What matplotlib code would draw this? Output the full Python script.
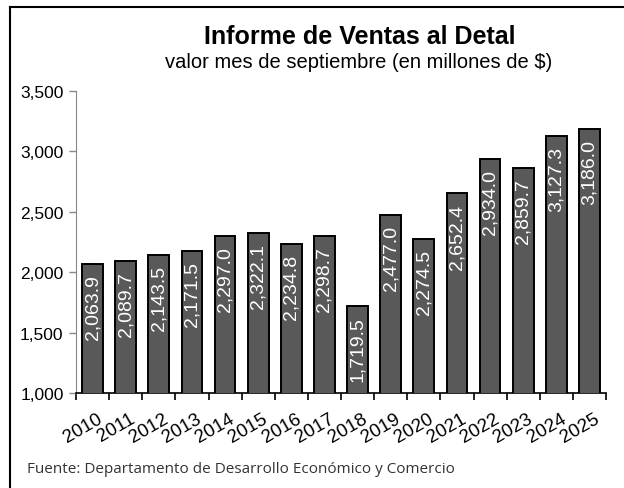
import matplotlib
matplotlib.use("Agg")
import matplotlib.pyplot as plt
from matplotlib.lines import Line2D
from matplotlib.transforms import offset_copy

years = ["2010", "2011", "2012", "2013", "2014", "2015", "2016", "2017",
         "2018", "2019", "2020", "2021", "2022", "2023", "2024", "2025"]
values = [2063.9, 2089.7, 2143.5, 2171.5, 2297.0, 2322.1, 2234.8, 2298.7,
          1719.5, 2477.0, 2274.5, 2652.4, 2934.0, 2859.7, 3127.3, 3186.0]
yticks = [1000, 1500, 2000, 2500, 3000, 3500]

plt.rcParams['font.family'] = ['Liberation Sans', 'DejaVu Sans']

fig = plt.figure(figsize=(6.24, 4.89), dpi=100)
ax = fig.add_axes([76/624, 1-394/489, (606-76)/624, (394-92)/489])

x = list(range(len(years)))
ax.bar(x, values, width=0.63, bottom=0, color="#595959",
       edgecolor="black", linewidth=1.4, zorder=3)
ax.set_ylim(1000, 3500)
ax.set_xlim(-0.5, len(years) - 0.5)
ax.set_yticks(yticks)
ax.set_yticklabels([f"{v:,}" for v in yticks], fontsize=12.5)

ax.set_xticks([i - 0.5 for i in range(len(years) + 1)])
ax.set_xticklabels([])
ax.tick_params(axis='x', length=5, width=1.2, color='black', direction='out')
ax.tick_params(axis='y', length=5, width=1, color='#888888', direction='out', pad=4)
for i, yr in enumerate(years):
    ax.text(i + 0.12, -0.055, yr, transform=ax.get_xaxis_transform(),
            rotation=30, ha='right', va='top', fontsize=13.5,
            rotation_mode='anchor')

for i, v in enumerate(values):
    tr = offset_copy(ax.transData, fig=fig, x=0, y=-10, units='dots')
    ax.text(i, v, f"{v:,.1f}", rotation=90, ha='center', va='top',
            color='white', fontsize=14, zorder=4, transform=tr)

for s in ['top', 'right']:
    ax.spines[s].set_visible(False)
ax.spines['left'].set_color('#888888')
ax.spines['bottom'].set_color('black')
ax.spines['bottom'].set_linewidth(1.2)

fig.text(360/624, 1-37/489, "Informe de Ventas al Detal", ha='center', va='center',
         fontsize=18, fontweight='bold')
fig.text(359/624, 1-63/489, "valor mes de septiembre (en millones de $)", ha='center',
         va='center', fontsize=14.5)
fig.text(27/624, 1-470/489, "Fuente: Departamento de Desarrollo Económico y Comercio",
         ha='left', va='center', fontsize=11, color='#333333', family=['Open Sans', 'DejaVu Sans'])

fig.add_artist(Line2D([10/624, 10/624], [0, 1-8/489], transform=fig.transFigure,
                      color='black', linewidth=1.5))
fig.add_artist(Line2D([10/624, 1], [1-8/489, 1-8/489], transform=fig.transFigure,
                      color='black', linewidth=1.5))

fig.savefig("out.png", dpi=100)
